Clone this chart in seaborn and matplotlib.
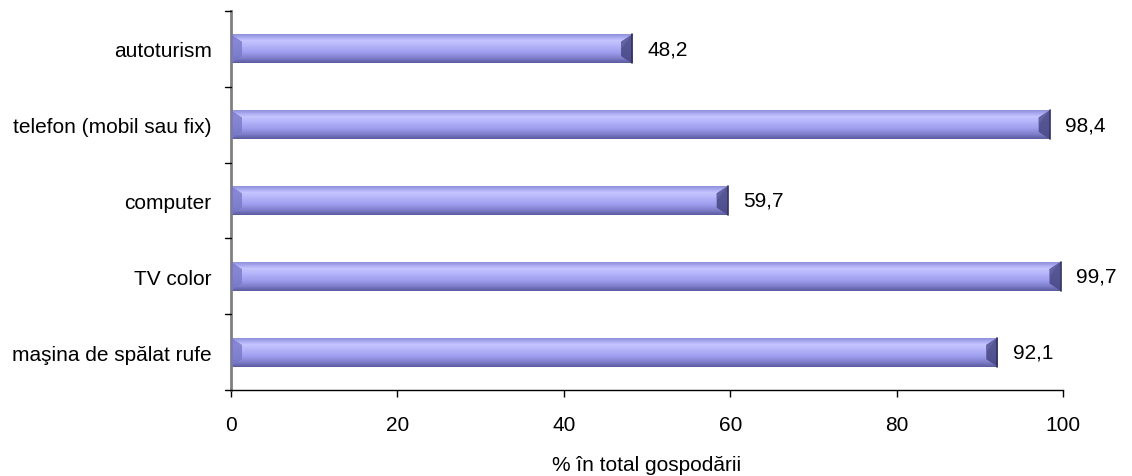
import matplotlib
matplotlib.use("Agg")
import matplotlib.pyplot as plt
import seaborn as sns
import numpy as np
import pandas as pd
from matplotlib.patches import Polygon
from matplotlib.colors import LinearSegmentedColormap

categories = ["autoturism", "telefon (mobil sau fix)", "computer", "TV color", "maşina de spălat rufe"]
values = [48.2, 98.4, 59.7, 99.7, 92.1]
value_labels = ["48,2", "98,4", "59,7", "99,7", "92,1"]
xticks = [0, 20, 40, 60, 80, 100]
xlabel = "% în total gospodării"

sns.set_theme(style="white")
plt.rcParams['font.family'] = ['Liberation Sans', 'DejaVu Sans']
plt.rcParams['text.color'] = 'black'
plt.rcParams['xtick.color'] = 'black'
plt.rcParams['ytick.color'] = 'black'
plt.rcParams['axes.labelcolor'] = 'black'
FS = 15

df = pd.DataFrame({"cat": categories, "val": values})

fig = plt.figure(figsize=(11.32, 4.77), dpi=100)
ax = fig.add_axes([231/1132, 1-391/477, (1063-231)/1132, (391-12)/477])

sns.barplot(data=df, x="val", y="cat", orient="h", color="#9999EE", width=0.38, ax=ax, saturation=1)

cmap = LinearSegmentedColormap.from_list("bar", [
    (0.0, "#5A5A9E"), (0.15, "#7C7CC8"), (0.35, "#9C9CEC"), (0.6, "#B4B4FA"),
    (0.78, "#C6C6FF"), (0.9, "#A8A8F0"), (1.0, "#9090DA")])
grad = np.linspace(0, 1, 64).reshape(-1, 1)

px = 100 / 832.0  # data units per pixel along x

for p in ax.patches:
    x0, y0 = p.get_x(), p.get_y()
    w, h = p.get_width(), p.get_height()
    p.set_visible(False)
    ax.imshow(grad, extent=[x0, x0 + w, y0 + h, y0], origin="lower", cmap=cmap,
              aspect="auto", zorder=2, interpolation="bicubic")
    bx = 11 * px
    # right end dark bevel
    ax.add_patch(Polygon([[x0 + w - bx, y0 + h * 0.25], [x0 + w, y0], [x0 + w, y0 + h],
                          [x0 + w - bx, y0 + h * 0.75]], closed=True,
                         facecolor="#4A4A88", edgecolor="none", zorder=3, alpha=0.9))
    ax.add_patch(Polygon([[x0 + w - bx, y0 + h * 0.25], [x0 + w, y0], [x0 + w - bx, y0 + h * 0.5]],
                         closed=True, facecolor="#6A6AAE", edgecolor="none", zorder=3, alpha=0.6))
    # left end bevel
    ax.add_patch(Polygon([[x0, y0], [x0 + bx, y0 + h * 0.25], [x0 + bx, y0 + h * 0.75], [x0, y0 + h]],
                         closed=True, facecolor="#7878C8", edgecolor="none", zorder=3, alpha=0.8))
    ax.plot([x0 + w, x0 + w], [y0, y0 + h], color="#303060", lw=1.2, zorder=4)

for i, (v, lab) in enumerate(zip(values, value_labels)):
    ax.annotate(lab, xy=(v, i), xytext=(11, 0), textcoords="offset points",
                ha="left", va="center", fontsize=FS, color="black")

ax.set_xlim(0, 100)
ax.set_ylim(len(categories) - 0.5, -0.5)
ax.set_xticks(xticks)
ax.set_xticklabels([str(t) for t in xticks], fontsize=FS)
ax.set_yticks(range(len(categories)))
ax.set_yticklabels(categories, fontsize=FS)
ax.tick_params(axis="y", length=0, pad=14)
ax.tick_params(axis="x", length=5, width=1, color="black", direction="out", pad=13, bottom=True)
for b in np.arange(-0.5, len(categories), 1.0):
    ax.plot([-0.7, 0], [b, b], color="black", lw=1, clip_on=False, zorder=5)
ax.set_ylabel("")
ax.set_xlabel(xlabel, fontsize=FS)
ax.xaxis.set_label_coords(0.5, -0.172)

for s in ["top", "right"]:
    ax.spines[s].set_visible(False)
ax.spines["left"].set_color("#808080")
ax.spines["left"].set_linewidth(2)
ax.spines["bottom"].set_color("black")
ax.spines["bottom"].set_linewidth(1)

fig.savefig("out.png", dpi=100)
